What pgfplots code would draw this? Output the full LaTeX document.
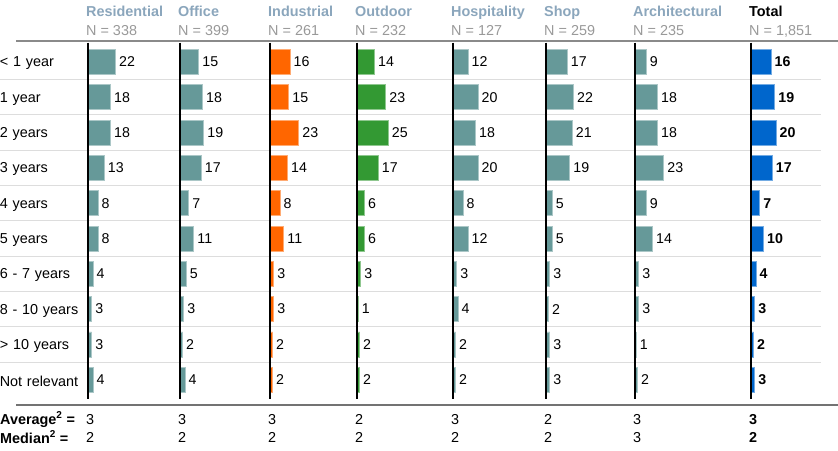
\documentclass[border=0pt]{standalone}
\usepackage{fontspec}
\setmainfont{Liberation Sans}
\usepackage{pgfplots}
\pgfplotsset{compat=1.18}

\definecolor{barteal}{HTML}{669999}
\definecolor{barorange}{HTML}{FF6600}
\definecolor{bargreen}{HTML}{339933}
\definecolor{barblue}{HTML}{0066CC}
\definecolor{headblue}{HTML}{8BA6BC}
\definecolor{ngray}{HTML}{999999}
\definecolor{sepgray}{HTML}{DDDDDD}

\newcommand\fbig{\fontsize{14.4}{19}\selectfont}
\newcommand\fsmall{\fontsize{14.2}{17}\selectfont}

\pgfplotsset{
  col/.style={
    scale only axis, width=50pt, height=353pt,
    xmin=0, xmax=40, ymin=-0.5, ymax=9.5, y dir=reverse,
    axis line style={draw=none}, major tick length=0pt,
    xtick=\empty, ytick=\empty, clip=false,
    anchor=north west,
    /pgf/number format/assume math mode=true,
    title style={anchor=base west, at={(0,1)}, inner sep=0pt, xshift=-2pt, yshift=3.2pt, font=\fbig},
  },
}

% #1 x, #2 name, #3 N, #4 name colour, #5 bar colour, #6 data, #7 avg, #8 median, #9 weight
\newcommand\col[9]{%
  \begin{axis}[col, at={(#1pt,405.65pt)},
    title={\begin{tabular}[b]{@{}l@{}}\textcolor{#4}{\bfseries #2}\\\textcolor{ngray}{N = #3}\end{tabular}}]
    \addplot[xbar, bar width=25pt, fill=#5, draw=#5!55!white, line width=0.8pt,
      nodes near coords, nodes near coords align=horizontal,
      nodes near coords style={font=\fsmall#9, text=black}] coordinates {#6};
    \draw[black, line width=2.4pt] (axis cs:0,-0.55) -- (axis cs:0,9.55);
    \node[anchor=base west, inner sep=0pt, xshift=-2pt, font=\fbig#9] at (axis cs:0,10.26) {#7};
    \node[anchor=base west, inner sep=0pt, xshift=-2pt, font=\fbig#9] at (axis cs:0,10.79) {#8};
  \end{axis}}

\begin{document}
\begin{tikzpicture}[x=1pt, y=1pt]
  \useasboundingbox (0,0) rectangle (838,450);
  \foreach \k in {0,...,8} {
    \draw[sepgray, line width=1pt] (0,{450-79.65-35.3*\k}) -- (821,{450-79.65-35.3*\k});
  }
  \draw[ngray!90!black, line width=1.2pt] (16,409) -- (838,409);
  \draw[black!55, line width=2pt] (16,45) -- (838,45);

  \begin{axis}[col, at={(88pt,405.65pt)},
    ytick={0,...,9},
    yticklabels={< 1 year, 1 year, 2 years, 3 years, 4 years, 5 years, 6 - 7 years, 8 - 10 years, > 10 years, Not relevant},
    yticklabel style={font=\fbig, text width=88pt, align=left, inner sep=0pt, anchor=east, yshift=-1.5pt},
    title={\begin{tabular}[b]{@{}l@{}}\textcolor{headblue}{\bfseries Residential}\\\textcolor{ngray}{N = 338}\end{tabular}}]
    \addplot[xbar, bar width=25pt, fill=barteal, draw=barteal!55!white, line width=0.8pt,
      nodes near coords, nodes near coords align=horizontal,
      nodes near coords style={font=\fsmall, text=black}] coordinates
      {(22,0) (18,1) (18,2) (13,3) (8,4) (8,5) (4,6) (3,7) (3,8) (4,9)};
    \draw[black, line width=2.4pt] (axis cs:0,-0.55) -- (axis cs:0,9.55);
    \node[anchor=base west, inner sep=0pt, xshift=-2pt, font=\fbig] at (axis cs:0,10.26) {3};
    \node[anchor=base west, inner sep=0pt, xshift=-2pt, font=\fbig] at (axis cs:0,10.79) {2};
  \end{axis}

  \col{180}{Office}{399}{headblue}{barteal}
    {(15,0) (18,1) (19,2) (17,3) (7,4) (11,5) (5,6) (3,7) (2,8) (4,9)}{3}{2}{}
  \col{270}{Industrial}{261}{headblue}{barorange}
    {(16,0) (15,1) (23,2) (14,3) (8,4) (11,5) (3,6) (3,7) (2,8) (2,9)}{3}{2}{}
  \col{357}{Outdoor}{232}{headblue}{bargreen}
    {(14,0) (23,1) (25,2) (17,3) (6,4) (6,5) (3,6) (1,7) (2,8) (2,9)}{2}{2}{}
  \col{453}{Hospitality}{127}{headblue}{barteal}
    {(12,0) (20,1) (18,2) (20,3) (8,4) (12,5) (3,6) (4,7) (2,8) (2,9)}{3}{2}{}
  \col{546}{Shop}{259}{headblue}{barteal}
    {(17,0) (22,1) (21,2) (19,3) (5,4) (5,5) (3,6) (2,7) (3,8) (3,9)}{2}{2}{}
  \col{635}{Architectural}{235}{headblue}{barteal}
    {(9,0) (18,1) (18,2) (23,3) (9,4) (14,5) (3,6) (3,7) (1,8) (2,9)}{3}{3}{}
  \col{751}{Total}{1,851}{black}{barblue}
    {(16,0) (19,1) (20,2) (17,3) (7,4) (10,5) (4,6) (3,7) (2,8) (3,9)}{3}{2}{\bfseries}

  \node[anchor=base west, inner sep=0pt, font=\fbig\bfseries] at (0,26) {Average\textsuperscript{2} =};
  \node[anchor=base west, inner sep=0pt, font=\fbig\bfseries] at (0,7) {Median\textsuperscript{2} =};
\end{tikzpicture}
\end{document}
